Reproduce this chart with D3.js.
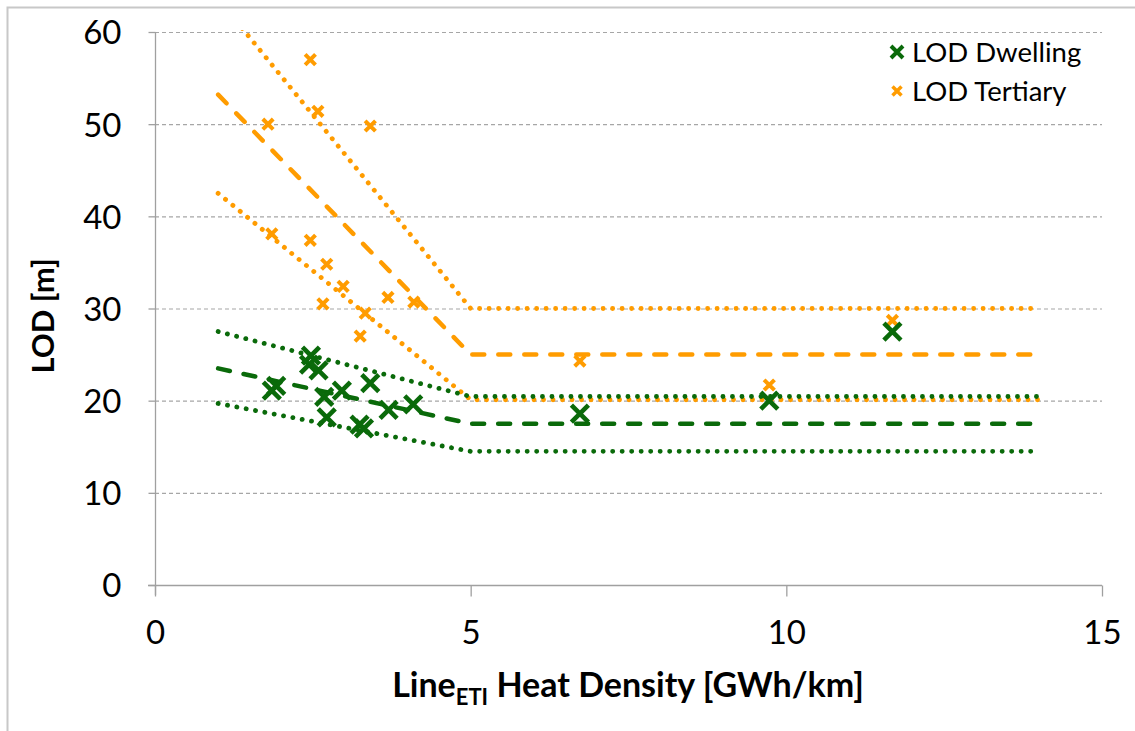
<!DOCTYPE html>
<html>
<head>
  <meta charset="utf-8">
  <title>LOD vs Line Heat Density</title>
  <script src="https://d3js.org/d3.v7.min.js"></script>
  <style>
    body { margin: 0; background: #fff; }
    text { font-family: Lato, "Open Sans", sans-serif; fill: #000; }
  </style>
</head>
<body>
  <svg id="grafico"></svg>

  <script>
    // puntos medidos [densidad GWh/km, LOD m]
    const dwelling = [
      [1.85, 21.1], [1.92, 21.6], [2.47, 24.9], [2.44, 23.9], [2.59, 23.3],
      [2.68, 20.4], [2.96, 21.1], [3.41, 21.9], [2.72, 18.2], [3.24, 17.4],
      [3.31, 17.0], [3.70, 19.0], [4.09, 19.6], [6.73, 18.6], [9.73, 20.0],
      [11.68, 27.5]
    ];
    const tertiary = [
      [1.79, 50.0], [2.46, 57.0], [2.58, 51.4], [3.41, 49.8], [1.85, 38.1],
      [2.46, 37.4], [2.72, 34.8], [2.98, 32.4], [2.66, 30.5], [3.33, 29.5],
      [3.69, 31.2], [4.10, 30.7], [3.25, 27.0], [6.73, 24.3], [9.73, 21.7],
      [11.68, 28.7]
    ];

    // lineas de tendencia: x = 1, 5, 14
    const tramoX = [1, 5, 14];
    const tertiaryAlto  = [63.6, 30.0, 30.0];
    const tertiaryMedio = [53.2, 25.0, 25.0];
    const tertiaryBajo  = [42.5, 20.1, 20.1];
    const dwellingAlto  = [27.5, 20.45, 20.45];
    const dwellingMedio = [23.5, 17.5, 17.5];
    const dwellingBajo  = [19.7, 14.5, 14.5];

    const xTicks = [0, 5, 10, 15];
    const yTicks = [0, 10, 20, 30, 40, 50, 60];

    const verde = "#0a6a0a";
    const naranja = "#ff9c00";

    const ancho = 1135, alto = 731;
    const svg = d3.select("#grafico").attr("width", ancho).attr("height", alto);

    // marco
    svg.append("rect")
      .attr("x", 7.5).attr("y", 7.5)
      .attr("width", ancho).attr("height", alto)
      .attr("fill", "none").attr("stroke", "#c8c8c8").attr("stroke-width", 2);

    const x = d3.scaleLinear().domain([0, 15]).range([155, 1102]);
    const y = d3.scaleLinear().domain([0, 60]).range([585, 32]);

    svg.append("defs").append("clipPath").attr("id", "area")
      .append("rect")
      .attr("x", x(0)).attr("y", y(60) - 2)
      .attr("width", x(15) - x(0)).attr("height", y(0) - y(60) + 2);

    // rejilla
    svg.append("g").selectAll("line")
      .data(yTicks.filter(d => d > 0))
      .join("line")
      .attr("x1", x(0)).attr("x2", x(15))
      .attr("y1", d => y(d) + 0.5).attr("y2", d => y(d) + 0.5)
      .attr("stroke", "#a6a6a6").attr("stroke-width", 1.2)
      .attr("stroke-dasharray", "4 3");

    // ejes
    const ejeY = svg.append("g")
      .attr("transform", `translate(${x(0) + 0.5},0)`)
      .call(d3.axisLeft(y).tickValues(yTicks).tickSize(7).tickSizeOuter(0).tickPadding(27));
    const ejeX = svg.append("g")
      .attr("transform", `translate(0,${y(0) + 0.5})`)
      .call(d3.axisBottom(x).tickValues(xTicks).tickSize(11).tickSizeOuter(0).tickPadding(24));

    [ejeY, ejeX].forEach(g => {
      g.select(".domain").attr("stroke", "#a0a0a0").attr("stroke-width", 1.3);
      g.selectAll(".tick line").attr("stroke", "#a0a0a0").attr("stroke-width", 1.3);
      g.selectAll(".tick text").attr("font-size", 33).attr("font-family", "Lato").attr("fill", "#000");
    });
    ejeY.select(".domain").attr("d", `M0,${y(0) + 10}V${y(60)}`);
    ejeX.select(".domain").attr("d", `M${x(0) - 7},0H${x(15)}`);
    ejeY.selectAll(".tick text").attr("dy", "0.36em");

    // titulos
    const tituloX = svg.append("text")
      .attr("x", 628).attr("y", 697)
      .attr("text-anchor", "middle")
      .attr("font-size", 34).attr("font-weight", "bold");
    tituloX.append("tspan").text("Line");
    tituloX.append("tspan").text("ETI").attr("font-size", 22).attr("dy", 8);
    tituloX.append("tspan").text(" Heat Density [GWh/km]").attr("dy", -8);

    svg.append("text")
      .attr("transform", "translate(54,316) rotate(-90)")
      .attr("text-anchor", "middle")
      .attr("font-size", 31).attr("font-weight", "bold")
      .text("LOD [m]");

    // tendencias
    const linea = d3.line().x(d => x(d[0])).y(d => y(d[1]));
    const tendencias = [
      { v: tertiaryAlto, c: naranja, t: "punto" },
      { v: tertiaryMedio, c: naranja, t: "raya" },
      { v: tertiaryBajo, c: naranja, t: "punto" },
      { v: dwellingAlto, c: verde, t: "punto" },
      { v: dwellingMedio, c: verde, t: "raya" },
      { v: dwellingBajo, c: verde, t: "punto" }
    ];
    svg.append("g").attr("clip-path", "url(#area)")
      .selectAll("path")
      .data(tendencias)
      .join("path")
      .attr("d", d => linea(tramoX.map((xx, i) => [xx, d.v[i]])))
      .attr("fill", "none")
      .attr("stroke", d => d.c)
      .attr("stroke-width", d => d.t === "punto" ? 4.8 : 4.5)
      .attr("stroke-linecap", "round")
      .attr("stroke-linejoin", "round")
      .attr("stroke-dasharray", d => d.t === "punto" ? "0.1 9.4" : "12 14");

    // marcadores en cruz
    function cruz(g, datos, color, r, w) {
      g.selectAll("path")
        .data(datos)
        .join("path")
        .attr("d", d => {
          const cx = x(d[0]), cy = y(d[1]);
          return `M${cx - r},${cy - r}L${cx + r},${cy + r}M${cx - r},${cy + r}L${cx + r},${cy - r}`;
        })
        .attr("stroke", color).attr("stroke-width", w).attr("fill", "none");
    }
    cruz(svg.append("g"), tertiary, naranja, 5.2, 4);
    cruz(svg.append("g"), dwelling, verde, 8.5, 4.6);

    // leyenda
    const leyenda = [
      { nombre: "LOD Dwelling", c: verde, r: 6, w: 4 },
      { nombre: "LOD Tertiary", c: naranja, r: 4.5, w: 3.5 }
    ];
    const ley = svg.append("g").selectAll("g")
      .data(leyenda)
      .join("g")
      .attr("transform", (d, i) => `translate(897,${52 + i * 39})`);
    ley.append("path")
      .attr("d", d => `M${-d.r},${-d.r}L${d.r},${d.r}M${-d.r},${d.r}L${d.r},${-d.r}`)
      .attr("stroke", d => d.c).attr("stroke-width", d => d.w);
    ley.append("text")
      .attr("x", 15).attr("dy", "0.36em")
      .attr("font-size", 27.5)
      .text(d => d.nombre);
  </script>
</body>
</html>
